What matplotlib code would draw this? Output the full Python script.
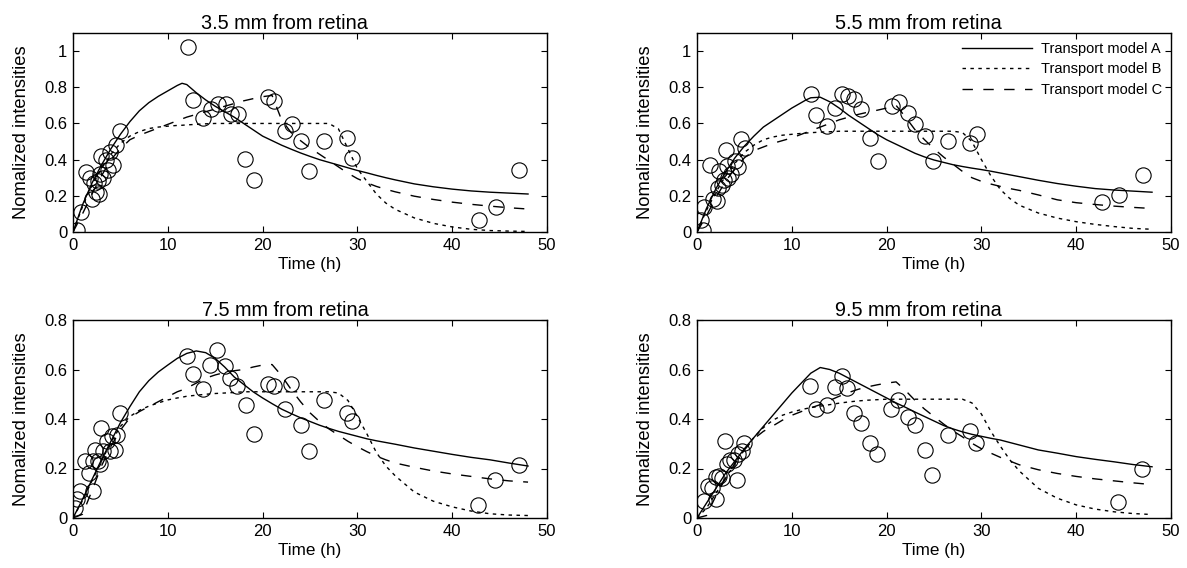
import matplotlib
matplotlib.use("Agg")
import matplotlib.pyplot as plt

plt.rcParams["font.family"] = ["Liberation Sans", "DejaVu Sans"]

# Model time grid (h)
t_model = [0, 1, 2, 3, 4, 5, 6, 7, 8, 9, 10, 11, 11.5, 12, 13, 14, 15, 16, 17, 18,
           19, 20, 21, 22, 23, 24, 25, 26, 27, 28, 29, 30, 31, 32, 33, 34, 36, 38,
           40, 42, 44, 46, 48]

# ---- 3.5 mm from retina ----
t_35 = [0.4, 0.85, 1.4, 1.8, 2.0, 2.2, 2.4, 2.6, 2.7, 2.9, 3.0, 3.2, 3.5, 3.7, 3.9,
        4.2, 4.5, 5.0, 12.1, 12.7, 13.75, 14.6, 15.3, 16.1, 16.7, 17.4, 18.1, 19.1,
        20.6, 21.2, 22.4, 23.1, 24.05, 24.9, 26.5, 28.9, 29.4, 42.8, 44.6, 47.0]
y_35 = [0.01, 0.11, 0.33, 0.30, 0.18, 0.27, 0.22, 0.28, 0.21, 0.32, 0.42, 0.30,
        0.40, 0.34, 0.44, 0.37, 0.48, 0.56, 1.02, 0.73, 0.63, 0.68, 0.705, 0.71,
        0.65, 0.65, 0.405, 0.29, 0.745, 0.725, 0.56, 0.595, 0.505, 0.335, 0.505,
        0.52, 0.41, 0.065, 0.14, 0.345]
a_35 = [0, 0.15, 0.27, 0.37, 0.46, 0.54, 0.61, 0.67, 0.715, 0.75, 0.78, 0.81, 0.822,
        0.815, 0.77, 0.73, 0.695, 0.665, 0.635, 0.60, 0.565, 0.53, 0.505, 0.48,
        0.458, 0.437, 0.418, 0.40, 0.385, 0.37, 0.355, 0.34, 0.327, 0.313, 0.30,
        0.288, 0.266, 0.25, 0.237, 0.227, 0.22, 0.215, 0.21]
b_35 = [0, 0.14, 0.26, 0.35, 0.43, 0.49, 0.53, 0.555, 0.572, 0.58, 0.585, 0.589,
        0.59, 0.592, 0.595, 0.598, 0.60, 0.60, 0.60, 0.60, 0.60, 0.60, 0.60, 0.60,
        0.60, 0.60, 0.60, 0.60, 0.60, 0.57, 0.46, 0.35, 0.28, 0.21, 0.16, 0.125,
        0.078, 0.048, 0.028, 0.015, 0.008, 0.005, 0.003]
c_35 = [0, 0.10, 0.21, 0.31, 0.40, 0.46, 0.51, 0.535, 0.555, 0.575, 0.595, 0.615,
        0.625, 0.635, 0.65, 0.665, 0.68, 0.695, 0.71, 0.725, 0.737, 0.748, 0.755,
        0.62, 0.55, 0.505, 0.465, 0.43, 0.395, 0.36, 0.325, 0.295, 0.272, 0.252,
        0.236, 0.222, 0.198, 0.18, 0.165, 0.153, 0.143, 0.134, 0.127]

# ---- 5.5 mm from retina ----
t_55 = [0.4, 0.6, 0.75, 1.4, 1.7, 2.1, 2.25, 2.35, 2.6, 2.8, 3.05, 3.15, 3.3, 3.6,
        4.0, 4.35, 4.6, 5.05, 12.0, 12.6, 13.7, 14.55, 15.25, 15.9, 16.6, 17.3,
        18.2, 19.05, 20.6, 21.3, 22.3, 23.0, 24.05, 24.9, 26.5, 28.8, 29.5, 42.75,
        44.5, 47.0]
y_55 = [0.065, 0.01, 0.14, 0.37, 0.18, 0.17, 0.245, 0.335, 0.26, 0.29, 0.455, 0.365,
        0.30, 0.32, 0.39, 0.36, 0.515, 0.465, 0.765, 0.645, 0.585, 0.685, 0.765,
        0.75, 0.735, 0.68, 0.52, 0.395, 0.695, 0.72, 0.66, 0.595, 0.53, 0.395,
        0.505, 0.49, 0.54, 0.168, 0.205, 0.313]
a_55 = [0, 0.13, 0.24, 0.33, 0.41, 0.475, 0.53, 0.58, 0.615, 0.65, 0.685, 0.715, 0.73,
        0.742, 0.745, 0.72, 0.685, 0.645, 0.61, 0.575, 0.54, 0.51, 0.485, 0.46,
        0.435, 0.415, 0.398, 0.385, 0.372, 0.362, 0.353, 0.345, 0.336, 0.326,
        0.316, 0.306, 0.286, 0.268, 0.253, 0.24, 0.232, 0.226, 0.22]
b_55 = [0, 0.12, 0.22, 0.31, 0.38, 0.44, 0.48, 0.51, 0.525, 0.535, 0.54, 0.545,
        0.547, 0.549, 0.552, 0.554, 0.557, 0.557, 0.557, 0.557, 0.557, 0.557,
        0.557, 0.557, 0.557, 0.557, 0.557, 0.557, 0.557, 0.55, 0.50, 0.40, 0.31,
        0.235, 0.185, 0.148, 0.105, 0.077, 0.057, 0.042, 0.03, 0.02, 0.015]
c_55 = [0, 0.09, 0.19, 0.28, 0.35, 0.41, 0.45, 0.47, 0.49, 0.505, 0.52, 0.54, 0.55,
        0.56, 0.58, 0.60, 0.62, 0.635, 0.65, 0.662, 0.673, 0.685, 0.70, 0.635,
        0.565, 0.51, 0.46, 0.415, 0.375, 0.335, 0.30, 0.28, 0.265, 0.252, 0.24,
        0.23, 0.205, 0.178, 0.162, 0.152, 0.143, 0.136, 0.13]

# ---- 7.5 mm from retina ----
t_75 = [0.2, 0.45, 0.75, 1.25, 1.7, 2.15, 2.15, 2.3, 2.6, 2.8, 3.0, 3.2, 3.55, 3.9,
        4.1, 4.4, 4.6, 5.0, 12.05, 12.7, 13.75, 14.5, 15.2, 16.0, 16.6, 17.3,
        18.2, 19.1, 20.6, 21.2, 22.4, 23.0, 24.05, 24.9, 26.5, 28.9, 29.4, 42.75,
        44.5, 47.0]
y_75 = [0.04, 0.075, 0.11, 0.23, 0.18, 0.11, 0.23, 0.275, 0.23, 0.22, 0.365, 0.27,
        0.31, 0.27, 0.33, 0.275, 0.335, 0.425, 0.655, 0.58, 0.52, 0.62, 0.68, 0.615,
        0.565, 0.535, 0.455, 0.34, 0.54, 0.535, 0.44, 0.54, 0.375, 0.27, 0.475,
        0.425, 0.39, 0.053, 0.155, 0.215]
a_75 = [0, 0.075, 0.155, 0.235, 0.31, 0.385, 0.45, 0.51, 0.555, 0.59, 0.618, 0.645,
        0.655, 0.665, 0.675, 0.668, 0.645, 0.61, 0.57, 0.54, 0.51, 0.485, 0.462,
        0.44, 0.422, 0.405, 0.39, 0.375, 0.362, 0.35, 0.34, 0.33, 0.32, 0.312,
        0.305, 0.298, 0.283, 0.27, 0.257, 0.245, 0.235, 0.222, 0.21]
b_75 = [0, 0.07, 0.15, 0.23, 0.305, 0.37, 0.41, 0.435, 0.452, 0.465, 0.477, 0.485,
        0.488, 0.492, 0.496, 0.50, 0.503, 0.505, 0.507, 0.51, 0.51, 0.51, 0.51,
        0.51, 0.51, 0.51, 0.51, 0.51, 0.51, 0.505, 0.475, 0.41, 0.34, 0.265, 0.21,
        0.17, 0.105, 0.068, 0.045, 0.028, 0.017, 0.012, 0.01]
c_75 = [0, 0.015, 0.11, 0.21, 0.29, 0.355, 0.405, 0.43, 0.45, 0.47, 0.49, 0.51,
        0.517, 0.525, 0.545, 0.565, 0.578, 0.588, 0.595, 0.60, 0.61, 0.618, 0.62,
        0.575, 0.52, 0.47, 0.425, 0.39, 0.36, 0.335, 0.31, 0.288, 0.268, 0.25,
        0.235, 0.222, 0.205, 0.19, 0.178, 0.168, 0.158, 0.15, 0.145]

# ---- 9.5 mm from retina ----
t_95 = [0.75, 1.2, 1.6, 2.0, 2.05, 2.3, 2.6, 2.95, 3.2, 3.5, 3.9, 4.2, 4.35, 4.7,
        5.0, 11.9, 12.6, 13.7, 14.55, 15.25, 15.8, 16.6, 17.3, 18.2, 19.0, 20.5,
        21.2, 22.3, 23.0, 24.0, 24.8, 26.5, 28.8, 29.4, 44.4, 46.9]
y_95 = [0.07, 0.13, 0.12, 0.075, 0.165, 0.17, 0.16, 0.31, 0.22, 0.235, 0.235, 0.155,
        0.26, 0.27, 0.305, 0.535, 0.44, 0.455, 0.53, 0.575, 0.525, 0.425, 0.385,
        0.305, 0.26, 0.44, 0.475, 0.41, 0.375, 0.275, 0.175, 0.335, 0.35, 0.305,
        0.065, 0.20]
a_95 = [0, 0.06, 0.12, 0.18, 0.23, 0.28, 0.325, 0.37, 0.415, 0.46, 0.505, 0.545,
        0.565, 0.585, 0.608, 0.60, 0.585, 0.565, 0.545, 0.525, 0.505, 0.485, 0.465,
        0.447, 0.428, 0.41, 0.392, 0.374, 0.36, 0.348, 0.338, 0.33, 0.322, 0.315,
        0.305, 0.295, 0.275, 0.262, 0.248, 0.237, 0.227, 0.216, 0.207]
b_95 = [0, 0.04, 0.10, 0.16, 0.22, 0.275, 0.325, 0.365, 0.395, 0.415, 0.428, 0.438,
        0.442, 0.446, 0.452, 0.458, 0.464, 0.469, 0.473, 0.476, 0.478, 0.48, 0.48,
        0.48, 0.48, 0.48, 0.48, 0.48, 0.48, 0.48, 0.465, 0.42, 0.35, 0.29, 0.235,
        0.19, 0.12, 0.08, 0.053, 0.036, 0.025, 0.018, 0.014]
c_95 = [0, 0.01, 0.09, 0.16, 0.22, 0.275, 0.32, 0.35, 0.372, 0.395, 0.415, 0.43,
        0.437, 0.445, 0.458, 0.475, 0.492, 0.507, 0.52, 0.53, 0.538, 0.545, 0.55,
        0.515, 0.475, 0.44, 0.41, 0.38, 0.352, 0.328, 0.302, 0.28, 0.262, 0.245,
        0.23, 0.215, 0.195, 0.18, 0.168, 0.158, 0.15, 0.142, 0.135]

titles = ["3.5 mm from retina", "5.5 mm from retina",
          "7.5 mm from retina", "9.5 mm from retina"]
model_labels = ["Transport model A", "Transport model B", "Transport model C"]
x_ticks = [0, 10, 20, 30, 40, 50]
y_ticks_top = [0, 0.2, 0.4, 0.6, 0.8, 1]
y_ticks_bottom = [0, 0.2, 0.4, 0.6, 0.8]

panels = [
    (t_35, y_35, a_35, b_35, c_35, 1.1, y_ticks_top),
    (t_55, y_55, a_55, b_55, c_55, 1.1, y_ticks_top),
    (t_75, y_75, a_75, b_75, c_75, 0.8, y_ticks_bottom),
    (t_95, y_95, a_95, b_95, c_95, 0.8, y_ticks_bottom),
]

W, H = 1187, 568
fig = plt.figure(figsize=(W / 100, H / 100), dpi=100)

# axes boxes in pixels (left, top, right, bottom) and title centre (axes fraction)
boxes = [(73, 33, 547, 232), (697, 33, 1171, 232),
         (73, 320, 547, 518), (697, 320, 1171, 518)]
title_x = [0.447, 0.468, 0.447, 0.468]

FS = 12
for i, ((tt, yy, a, b, c, ymax, yt), (x0, y0, x1, y1)) in enumerate(zip(panels, boxes)):
    ax = fig.add_axes([x0 / W, 1 - y1 / H, (x1 - x0) / W, (y1 - y0) / H])
    la, = ax.plot(t_model, a, color="black", lw=1.0, label=model_labels[0])
    lb, = ax.plot(t_model, b, color="black", lw=1.0, dashes=(2.5, 3.2),
                  label=model_labels[1])
    lc, = ax.plot(t_model, c, color="black", lw=1.0, dashes=(7.5, 7.5),
                  label=model_labels[2])
    ax.plot(tt, yy, linestyle="none", marker="o", markersize=11, mfc="none",
            mec="black", mew=0.8)
    ax.set_xlim(0, 50)
    ax.set_ylim(0, ymax)
    ax.set_xticks(x_ticks)
    ax.set_yticks(yt)
    ax.set_yticklabels([f"{v:g}" for v in yt])
    ax.tick_params(direction="in", top=True, right=True, length=4, width=0.8,
                   labelsize=FS, pad=4, colors="black")
    for s in ax.spines.values():
        s.set_linewidth(1.0)
    ax.text(title_x[i], 1.0, titles[i], transform=ax.transAxes, ha="center",
            va="bottom", fontsize=14.3)
    ax.set_xlabel("Time (h)", fontsize=12.3, labelpad=3)
    ax.set_ylabel("Nomalized intensities", fontsize=13.2, labelpad=10)
    if i == 1:
        ax.legend(handles=[la, lb, lc], loc="upper right", frameon=False,
                  fontsize=FS - 1.5, handlelength=4.8, handletextpad=0.6,
                  labelspacing=0.45, borderaxespad=0.2, markerfirst=True)

fig.savefig("out.png", dpi=100)
